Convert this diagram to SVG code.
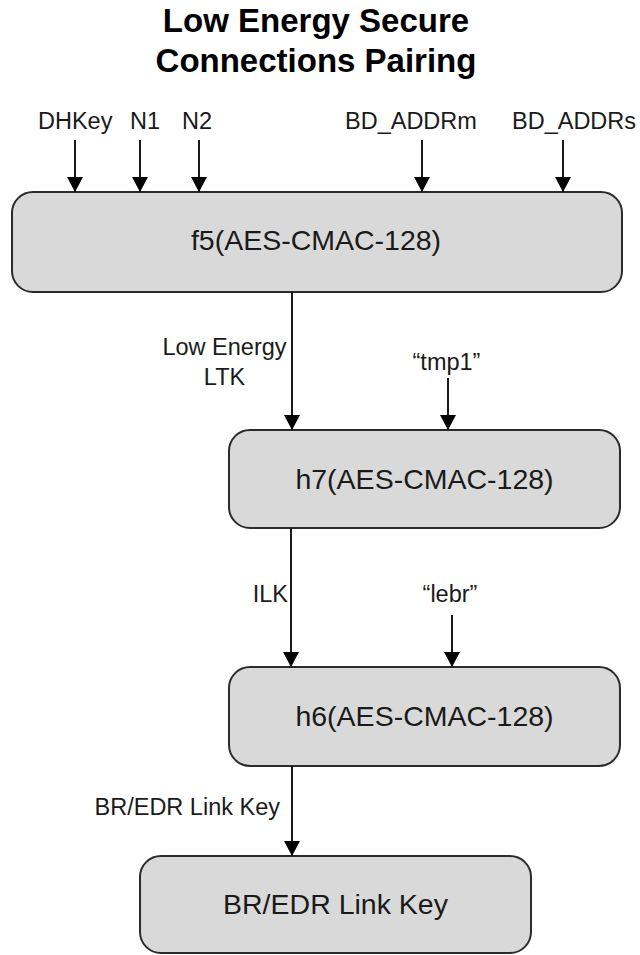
<svg xmlns="http://www.w3.org/2000/svg" width="640" height="955" viewBox="0 0 640 955">
<defs>
<style>
.box{fill:#d9d9d9;stroke:#2b2b2b;stroke-width:2}
.t{font-family:"Liberation Sans",Arial,sans-serif;fill:#1a1a1a}
.lbl{font-size:23.5px}
.big{font-size:28.5px;text-anchor:middle}
.title{font-size:33px;font-weight:bold;text-anchor:middle;fill:#000}
.c{stroke:#1a1a1a;stroke-width:2;fill:none;marker-end:url(#ah)}
</style>
<marker id="ah" markerUnits="userSpaceOnUse" markerWidth="16" markerHeight="16" refX="15" refY="8" orient="auto" viewBox="0 0 16 16">
<path d="M0,0 L15,8 L0,16 Z" fill="#000"/>
</marker>
</defs>
<g id="title">
<text class="t title" x="316" y="32">Low Energy Secure</text>
<text class="t title" x="316" y="72">Connections Pairing</text>
</g>
<g id="inputs">
<text class="t lbl" x="38" y="129">DHKey</text>
<text class="t lbl" x="130" y="129">N1</text>
<text class="t lbl" x="182" y="129">N2</text>
<text class="t lbl" x="345" y="129">BD_ADDRm</text>
<text class="t lbl" x="512" y="129">BD_ADDRs</text>
<text class="t lbl" x="446.5" y="370" text-anchor="middle">“tmp1”</text>
<text class="t lbl" x="450" y="602" text-anchor="middle">“lebr”</text>
</g>
<g id="f5">
<rect class="box" x="12" y="192" width="610" height="100" rx="21"/>
<text class="t big" x="316" y="250">f5(AES-CMAC-128)</text>
</g>
<g id="h7">
<rect class="box" x="229" y="430" width="391" height="98" rx="21"/>
<text class="t big" x="424.5" y="489">h7(AES-CMAC-128)</text>
</g>
<g id="h6">
<rect class="box" x="229" y="667" width="391" height="99" rx="21"/>
<text class="t big" x="424.5" y="726">h6(AES-CMAC-128)</text>
</g>
<g id="linkkey">
<rect class="box" x="140" y="856" width="391" height="97" rx="21"/>
<text class="t big" x="335.5" y="914">BR/EDR Link Key</text>
</g>
<g id="connectors">
<line class="c" x1="75" y1="140" x2="75" y2="192"/>
<line class="c" x1="140" y1="140" x2="140" y2="192"/>
<line class="c" x1="199" y1="140" x2="199" y2="192"/>
<line class="c" x1="422" y1="140" x2="422" y2="192"/>
<line class="c" x1="563" y1="140" x2="563" y2="192"/>
<line class="c" x1="292" y1="292" x2="292" y2="430"/>
<line class="c" x1="448" y1="378" x2="448" y2="430"/>
<line class="c" x1="291" y1="528" x2="291" y2="667"/>
<line class="c" x1="452" y1="615" x2="452" y2="667"/>
<line class="c" x1="292" y1="766" x2="292" y2="856"/>
<text class="t lbl" x="224.5" y="355" text-anchor="middle">Low Energy</text>
<text class="t lbl" x="224.5" y="385" text-anchor="middle">LTK</text>
<text class="t lbl" x="288" y="602" text-anchor="end">ILK</text>
<text class="t lbl" x="280" y="815" text-anchor="end">BR/EDR Link Key</text>
</g>
</svg>
